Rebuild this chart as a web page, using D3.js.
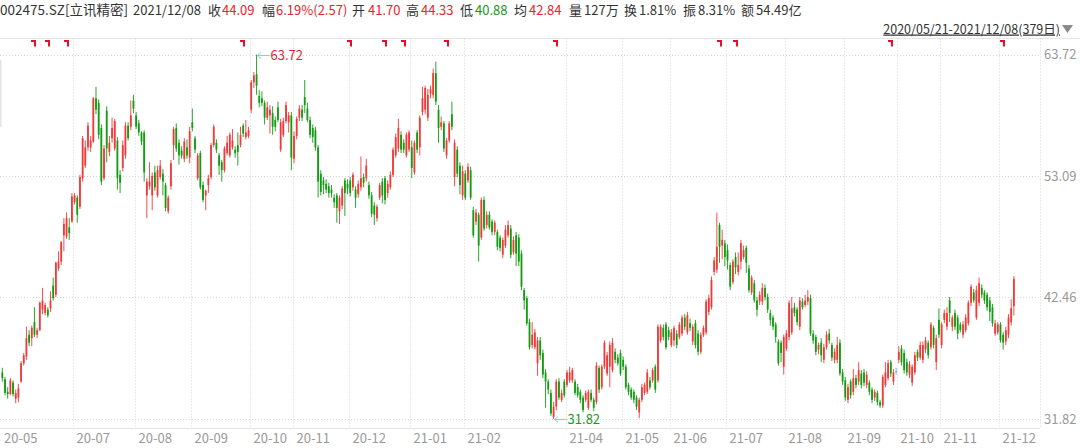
<!DOCTYPE html>
<html><head><meta charset="utf-8">
<script src="https://cdn.jsdelivr.net/npm/d3@7"></script>
<style>
html,body{margin:0;padding:0;background:#fff;}
svg{display:block;font-family:"Noto Sans CJK SC","Microsoft YaHei",sans-serif;}
</style></head><body>
<svg id="c" width="1080" height="448"></svg>
<script>
// ---- data (2020/05/21 - 2021/12/08, 379 trading days) ----
const opens = [
35.9,35.3,34.2,34.0,35.0,33.6,33.7,
35.1,36.7,37.3,39.2,38.9,40.3,39.2,39.6,41.4,41.1,41.4,41.5,43.5,42.7,45.0,45.6,47.9,47.8,48.6,49.1,
50.8,51.2,50.4,52.9,54.0,55.6,55.6,56.1,59.9,59.5,57.3,52.9,58.8,55.2,56.4,55.5,56.2,53.2,53.8,54.9,57.5,57.4,59.7,
58.4,57.7,56.9,56.9,51.4,52.2,51.4,53.4,51.4,53.0,53.3,52.3,50.0,52.2,55.8,57.3,56.0,55.3,54.6,55.6,54.7,
57.8,56.4,52.9,55.1,52.3,51.4,52.3,53.0,55.8,56.0,54.9,54.3,53.6,55.1,54.9,55.6,55.4,55.8,55.8,57.5,56.5,56.6,
58.9,61.3,62.0,60.1,59.9,59.5,58.2,58.4,58.6,58.0,59.1,55.4,56.7,57.9,57.8,58.4,
54.6,56.6,58.2,58.9,60.0,59.0,58.0,57.3,57.1,55.6,53.3,52.7,52.4,52.2,51.9,51.2,51.4,50.0,50.5,52.7,52.4,
52.7,52.1,51.9,51.5,52.1,53.0,52.9,52.3,51.4,50.5,49.4,51.2,52.6,52.9,51.6,52.1,53.2,54.9,55.5,56.7,56.0,54.9,55.4,
55.6,53.4,56.9,55.6,58.7,58.9,58.2,60.3,60.2,62.1,58.9,57.4,57.7,54.9,56.2,58.5,53.0,55.4,54.0,51.4,
53.3,52.7,53.6,50.1,49.1,49.7,47.7,51.0,48.8,49.7,49.1,48.2,48.2,47.7,46.2,
47.0,47.9,48.5,46.4,47.9,47.7,46.3,43.1,42.4,40.3,38.3,38.1,36.7,38.7,37.6,35.9,35.1,34.1,32.0,32.9,35.1,33.5,35.1,
34.8,35.2,35.2,35.1,34.6,34.2,33.7,33.5,32.8,34.1,33.5,33.3,36.3,34.6,36.4,35.8,36.4,36.1,37.7,37.2,37.6,
37.0,36.4,34.8,34.4,34.2,33.7,32.4,33.5,34.1,34.2,35.2,35.2,36.4,35.2,38.7,39.8,40.1,39.6,
38.3,38.7,39.3,39.0,39.3,40.7,39.4,40.2,38.6,40.2,39.3,37.7,39.2,39.4,41.2,41.6,44.7,44.9,48.8,47.0,47.2,
46.6,45.3,43.8,46.0,44.7,45.6,46.0,46.8,45.0,42.9,43.7,42.2,42.1,42.1,43.3,42.5,41.1,40.7,40.1,38.6,38.5,36.4,
38.0,39.0,39.4,41.6,41.4,39.9,42.1,41.8,42.1,42.4,39.3,39.0,37.9,38.5,37.0,38.1,39.3,38.3,37.0,37.0,38.5,35.9,
35.2,33.5,35.1,34.2,35.4,35.1,35.8,35.9,34.8,35.0,34.4,33.7,34.1,33.3,33.0,34.8,35.4,36.8,35.1,36.0,
37.0,38.0,37.6,36.8,35.7,35.0,35.9,37.7,37.2,37.0,37.9,38.5,38.1,39.8,36.8,40.5,
38.3,40.5,39.9,42.2,39.9,41.1,40.7,40.1,39.2,39.6,40.2,42.0,42.9,40.7,42.0,43.3,42.9,42.7,42.2,41.6,39.3,39.4,
40.1,39.2,38.6,39.2,40.3,41.70];
const highs = [
36.3,35.5,34.6,35.4,35.2,34.4,34.9,
36.9,37.6,39.9,39.6,40.0,41.6,39.8,42.1,43.3,42.0,41.6,43.0,44.2,45.6,46.5,47.4,49.4,49.9,49.4,51.6,
51.6,51.4,53.2,56.6,56.2,57.8,56.6,60.0,60.9,59.8,57.6,55.8,59.2,56.6,58.2,58.1,56.5,53.6,56.2,57.8,57.8,59.7,60.2,
58.7,58.0,57.0,57.1,52.9,54.3,53.4,54.0,54.0,54.5,53.7,52.5,51.4,54.5,57.4,57.7,56.3,55.7,56.4,56.3,57.4,
59.0,56.6,55.1,55.3,52.6,51.9,53.2,56.0,57.6,56.3,55.1,54.5,55.7,56.6,56.9,57.2,55.7,56.9,57.4,57.7,58.0,57.4,
61.5,62.2,63.72,60.6,60.5,59.7,59.6,59.3,59.2,58.3,59.6,58.1,58.2,59.6,58.7,58.7,
57.0,58.3,59.3,59.3,61.5,59.5,58.3,57.6,57.4,55.8,53.6,53.0,52.8,52.5,52.3,51.5,51.6,51.4,52.2,52.9,52.8,
53.0,53.4,52.2,52.7,54.8,53.3,54.6,52.6,51.7,50.8,50.6,52.5,52.9,53.1,52.7,53.5,55.6,56.8,58.1,57.0,56.3,56.9,57.1,
56.2,56.2,57.1,58.4,60.9,61.0,60.7,61.0,62.5,63.1,59.3,58.3,57.9,56.4,57.9,59.6,56.3,55.7,54.3,54.0,
53.6,54.2,53.9,50.4,50.2,49.9,51.2,51.3,50.0,50.0,49.3,49.2,48.4,47.9,47.7,
48.8,49.2,48.8,47.8,48.2,48.0,46.6,43.3,42.6,40.6,40.3,39.7,39.0,39.0,37.9,36.2,35.3,34.4,33.3,35.3,35.4,34.4,35.3,
36.1,36.4,36.3,35.3,34.9,34.4,33.9,34.3,34.4,34.4,33.7,36.8,36.5,36.6,38.7,37.7,38.6,38.9,38.0,37.5,37.9,
37.3,36.6,35.0,34.6,34.4,33.9,33.7,34.9,35.0,36.2,35.5,36.3,36.6,40.1,40.1,40.1,40.3,39.9,
39.7,40.0,39.6,40.3,40.9,41.0,41.2,40.6,40.1,40.5,39.6,39.4,40.0,42.3,42.7,44.3,46.0,49.9,49.0,48.4,47.5,
47.1,45.5,45.8,46.4,46.4,47.5,47.0,47.0,45.3,44.4,44.0,42.5,43.0,43.7,43.6,42.8,41.4,40.9,40.3,38.8,38.7,39.2,
39.6,42.2,42.5,42.0,41.6,42.5,42.4,42.7,43.1,42.7,39.6,39.2,38.5,38.9,38.4,39.5,39.7,38.5,38.0,39.0,38.8,36.2,
35.5,34.9,35.3,36.2,35.7,36.8,36.1,36.2,36.0,35.2,34.6,34.4,34.3,33.5,35.7,36.8,37.0,37.0,36.2,36.3,
38.2,38.3,37.9,37.1,36.9,36.6,37.7,37.9,38.6,38.6,39.0,38.7,40.3,40.0,39.2,41.5,
40.3,41.4,41.6,42.5,40.9,41.4,40.9,40.3,40.4,41.0,42.2,43.6,43.2,43.5,44.2,43.6,43.1,42.9,42.5,41.9,40.5,40.3,
40.3,39.4,39.9,41.0,42.3,44.33];
const lows = [
35.1,33.9,33.6,33.9,33.8,33.2,33.3,
35.0,36.5,37.0,38.2,38.2,39.0,38.9,39.5,41.0,40.9,40.7,41.2,42.2,42.5,44.8,45.3,46.5,47.6,47.5,49.0,
50.6,49.0,50.2,52.6,53.8,55.3,55.2,56.0,58.5,56.3,52.3,52.7,54.3,54.8,56.0,55.3,51.9,51.6,53.5,54.6,56.2,57.1,58.6,
57.2,56.6,55.8,52.6,49.4,51.9,50.1,51.8,51.2,52.8,51.4,50.0,49.8,51.9,54.5,55.2,54.1,54.6,54.3,54.6,54.2,
57.0,55.1,52.7,51.9,50.8,50.1,51.6,52.8,55.6,55.1,53.2,52.6,53.4,54.9,54.7,55.4,54.7,54.0,55.6,56.5,56.3,56.4,
58.6,60.8,60.2,59.1,59.2,57.6,58.0,56.8,56.7,57.0,57.8,55.2,56.5,57.7,56.9,53.6,
54.2,56.3,57.9,57.9,58.6,57.8,56.4,56.0,55.3,51.2,51.4,51.5,51.6,51.2,51.2,50.3,49.0,48.9,50.2,49.6,51.5,
51.3,51.8,50.3,51.2,51.8,52.1,52.6,51.1,49.5,48.8,49.1,51.0,50.7,50.6,51.2,51.9,53.0,54.7,55.2,55.1,55.1,54.7,55.2,
52.9,53.2,55.1,54.9,58.4,58.5,57.9,59.9,59.9,59.3,56.0,57.1,55.2,54.6,56.0,57.1,52.2,53.0,51.5,51.0,
51.0,52.5,51.0,47.7,48.8,45.6,47.5,48.3,48.5,48.4,47.9,47.9,46.6,46.5,45.9,
46.8,47.7,45.9,46.2,45.2,45.2,43.1,41.4,40.0,37.9,38.0,37.9,35.6,37.0,35.4,32.8,34.0,32.1,31.82,32.6,33.5,33.3,33.7,
34.6,35.0,35.0,33.9,33.7,33.2,32.4,33.3,32.6,33.3,32.5,33.1,34.1,34.4,36.2,35.6,34.6,35.9,36.7,36.5,35.6,
36.1,34.4,33.9,33.5,33.2,32.6,31.9,33.3,33.9,34.0,34.4,35.0,34.1,35.0,38.5,38.7,37.9,38.7,
38.1,38.2,38.0,38.8,39.1,39.6,39.2,39.5,38.3,38.0,37.4,37.5,39.0,39.2,40.9,41.4,44.4,44.6,45.5,45.8,45.2,
44.9,43.1,43.6,44.5,44.4,44.9,45.8,44.6,42.9,42.7,42.0,40.8,41.8,41.8,42.2,41.1,40.0,39.6,38.5,36.5,36.8,35.7,
37.8,38.7,39.2,40.8,40.0,39.6,41.4,41.6,41.8,39.1,38.4,37.4,37.5,36.8,36.7,37.9,38.4,36.9,36.7,36.7,35.6,34.8,
33.4,33.2,33.6,33.9,34.5,34.8,34.5,34.7,34.5,33.9,33.2,33.4,33.0,32.8,32.8,34.6,35.2,35.5,34.8,35.7,
36.7,36.5,35.8,35.6,35.4,34.7,35.7,36.9,37.0,36.7,37.6,37.1,37.9,38.0,36.1,38.9,
38.0,40.2,39.6,40.3,39.5,39.6,38.8,39.4,38.9,39.4,40.0,41.7,42.0,40.5,41.7,42.4,41.9,41.3,40.4,39.9,39.1,39.2,
38.5,37.9,38.3,38.9,40.0,40.88];
const closes = [
35.4,34.1,34.0,35.2,34.0,34.1,34.5,
36.7,37.4,38.9,38.5,39.8,39.2,39.6,42.0,42.2,41.8,40.9,42.2,42.4,45.5,45.6,47.3,48.9,49.4,48.1,51.3,
51.4,49.7,53.0,56.4,55.6,57.5,56.2,59.9,58.9,56.7,52.6,55.5,55.5,56.0,57.3,57.9,52.9,52.5,55.8,57.5,56.4,58.4,59.0,
57.4,56.9,56.1,53.4,52.6,52.6,53.1,52.1,53.6,54.0,52.6,50.3,51.2,54.2,57.2,55.5,54.9,54.9,56.1,54.9,57.0,
57.3,55.4,54.9,52.1,51.0,51.8,52.9,55.8,57.4,55.4,54.0,53.6,55.5,56.0,56.7,56.2,55.1,55.2,56.7,56.8,56.9,57.1,
61.3,61.9,61.0,59.5,59.5,58.2,59.1,58.9,57.4,57.4,58.0,57.8,57.9,59.3,58.4,54.7,
56.6,58.1,59.0,58.2,59.3,58.0,56.7,56.5,55.6,52.6,51.7,52.3,51.9,51.6,51.6,50.8,50.3,51.2,52.0,51.6,52.0,
51.6,53.2,51.2,52.4,52.9,52.5,54.0,51.4,49.8,49.7,50.4,52.3,51.4,51.0,52.4,53.2,55.4,56.5,57.3,55.4,55.4,56.7,56.9,
53.8,56.0,55.4,58.2,59.9,60.8,60.2,60.7,62.1,59.6,57.3,57.8,55.5,56.2,57.7,57.4,56.0,53.3,52.3,53.5,
51.2,53.9,51.2,47.9,49.9,47.0,51.0,48.5,49.7,48.6,48.2,49.0,46.9,46.8,47.5,
48.4,48.8,46.2,47.5,46.3,45.6,43.4,42.2,40.2,38.1,39.2,39.4,38.7,37.4,35.7,35.1,34.4,32.3,32.9,35.1,33.7,34.1,33.9,
35.9,35.9,36.1,34.1,33.9,33.5,32.6,34.1,34.2,33.5,32.8,36.5,34.4,36.4,38.5,37.4,38.3,38.5,37.0,36.7,35.8,
36.4,34.6,34.2,33.7,33.5,32.9,33.5,34.6,34.8,35.9,34.6,36.1,34.4,39.9,39.9,39.0,38.1,39.0,
39.4,39.8,38.3,40.1,40.7,39.9,40.9,39.8,39.9,38.3,37.7,39.2,39.8,42.1,42.4,44.0,45.7,46.9,46.9,47.5,46.0,
45.7,43.4,45.6,45.1,45.3,47.2,46.6,45.5,43.1,44.2,42.2,41.4,42.7,43.3,42.5,41.4,40.5,39.9,39.0,36.7,37.6,39.0,
39.3,42.0,41.5,41.1,40.3,42.2,41.6,42.2,42.5,39.3,38.7,37.7,38.3,37.4,38.1,39.2,38.7,37.2,37.7,38.3,35.8,35.1,
33.7,34.6,33.9,35.4,34.8,36.1,34.8,35.0,35.7,34.2,33.5,34.2,33.3,33.0,35.5,35.9,36.7,35.8,35.9,36.0,
37.7,36.8,36.1,35.9,36.6,36.4,37.4,37.2,38.3,38.3,38.7,37.4,40.1,38.3,38.9,39.2,
40.1,41.1,41.1,41.1,40.7,39.9,39.3,39.6,40.1,40.7,42.0,43.4,42.2,43.1,43.7,42.7,42.2,41.6,41.2,40.2,40.2,40.1,
38.7,38.5,39.6,40.7,41.52,44.09];

const monthLabels = ["20-05","20-07","20-08","20-09","20-10","20-11","20-12","21-01","21-02","21-04","21-05","21-06","21-07","21-08","21-09","21-10","21-11","21-12"];
const monthStarts = [0,27,50,71,93,109,130,153,173,211,232,250,271,293,315,335,351,373];
const yTickLabels = ["31.82","42.46","53.09","63.72"];
const eventIdx = [12,17,24,90,130,143,150,166,207,268,274,332,374];

const headerItems = [
  ["002475.SZ[立讯精密]", "k"], ["2021/12/08", "k"],
  ["收", "k"], ["44.09", "r"], ["幅", "k"], ["6.19%(2.57)", "r"],
  ["开", "k"], ["41.70", "r"], ["高", "k"], ["44.33", "r"],
  ["低", "k"], ["40.88", "g"], ["均", "k"], ["42.84", "r"],
  ["量", "k"], ["127万", "k"], ["换", "k"], ["1.81%", "k"],
  ["振", "k"], ["8.31%", "k"], ["额", "k"], ["54.49亿", "k"]
];
const rangeText = "2020/05/21-2021/12/08(379日)";

(function(){
// ---- drawing ----
const RED = "#f03a3a", GREEN = "#119c11", DOJI = "#6fa6d6";
const svg = d3.select("#c");
const n = closes.length;
const x = d3.scaleBand().domain(d3.range(n)).range([1, 1 + n * 2.676]).padding(0);
const y = d3.scaleLinear().domain([+yTickLabels[0], +yTickLabels[3]]).range([419, 54.6]);
const plotRight = 1040, topY = 38.5, bottomY = 428.5;

// header
const hx = [0,133,208,222,262,276,352,368,406,421,460,475,514,529,569,584,624,639,683,698,741,756];
const colorOf = {k:"#333", r:"#e8242c", g:"#1a961a"};
svg.append("g").selectAll("text").data(headerItems).join("text")
  .attr("x", (d,i)=>hx[i]).attr("y", 15)
  .attr("font-size", (d,i)=> i===0 ? 13.5 : 13).attr("fill", d=>colorOf[d[1]]).text(d=>d[0]);

svg.append("text").attr("x", 1060).attr("y", 33.5).attr("text-anchor","end")
  .attr("font-size", 12.5).attr("fill","#333").attr("text-decoration","underline").text(rangeText);
svg.append("path").attr("d","M1062,25 L1073,25 L1067.5,33 Z").attr("fill","#8a8a8a");

svg.append("line").attr("x1",0).attr("x2",1080).attr("y1",topY).attr("y2",topY).attr("stroke","#e6e6e6");

// grid
const grid = svg.append("g").attr("stroke","#d6d6d6").attr("stroke-dasharray","1,2").attr("stroke-width",1);
grid.selectAll(".h").data(yTickLabels).join("line")
  .attr("x1",0).attr("x2",plotRight)
  .attr("y1",d=>Math.round(y(+d))+0.5).attr("y2",d=>Math.round(y(+d))+0.5);
grid.selectAll(".v").data(monthStarts.slice(1)).join("line")
  .attr("x1",d=>Math.round(x(d))+0.5).attr("x2",d=>Math.round(x(d))+0.5)
  .attr("y1",topY).attr("y2",bottomY);
grid.append("line").attr("x1",plotRight+0.5).attr("x2",plotRight+0.5).attr("y1",topY).attr("y2",bottomY);

// left edge scroll mark
svg.append("rect").attr("x",0).attr("y",60).attr("width",1.5).attr("height",67).attr("fill","#e4e4e4");

// bottom axis
svg.append("line").attr("x1",0).attr("x2",plotRight).attr("y1",bottomY).attr("y2",bottomY).attr("stroke","#e3e3e3");
svg.append("g").selectAll("text").data(monthLabels).join("text")
  .attr("x",(d,i)=> i===0 ? 4 : Math.round(x(monthStarts[i])) + 3.5)
  .attr("y",442.5).attr("font-size",13).attr("fill","#999").text(d=>d);

// y labels
svg.append("g").selectAll("text").data(yTickLabels).join("text")
  .attr("x",1044).attr("y",d=>y(+d)).attr("dy","0.35em")
  .attr("font-size",13).attr("fill","#999").text(d=>d);

// candles
const idx = d3.range(n);
const col = i => closes[i] > opens[i] ? RED : (closes[i] < opens[i] ? GREEN : DOJI);
const cg = svg.append("g");
const bw = 1.8;
cg.selectAll(".w").data(idx).join("line")
  .attr("x1",i=>x(i)+x.bandwidth()/2).attr("x2",i=>x(i)+x.bandwidth()/2)
  .attr("y1",i=>y(highs[i])).attr("y2",i=>y(lows[i]))
  .attr("stroke",col).attr("stroke-width",0.9);
cg.selectAll(".b").data(idx).join("rect")
  .attr("x",i=>x(i)+x.bandwidth()/2-bw/2).attr("width",bw)
  .attr("y",i=>y(Math.max(opens[i],closes[i])))
  .attr("height",i=>Math.max(1, Math.abs(y(opens[i])-y(closes[i]))))
  .attr("fill",col);

// event markers
svg.append("g").selectAll("path").data(eventIdx).join("path")
  .attr("d",i=>{const cx=Math.round(x(i)+x.bandwidth()/2);return `M${cx-3},40 h5 v6.5 h-2 v-4.5 h-3 Z`;})
  .attr("fill","#e3102a");

// max / min annotations
const maxI = d3.maxIndex(highs), minI = d3.minIndex(lows);
function annot(i, v, color){
  const cx = x(i)+x.bandwidth()/2, yy = Math.round(y(v))+0.5;
  const g = svg.append("g");
  g.append("line").attr("x1",cx+1).attr("x2",cx+13).attr("y1",yy).attr("y2",yy).attr("stroke","#8cc8e4");
  g.append("path").attr("d",`M${cx+4.5},${yy-3} L${cx+1},${yy} L${cx+4.5},${yy+3}`).attr("fill","none").attr("stroke","#8cc8e4");
  g.append("text").attr("x",cx+14).attr("y",yy).attr("dy","0.35em").attr("font-size",13).attr("fill",color).text(v.toFixed(2));
}
annot(maxI, highs[maxI], "#e8242c");
annot(minI, lows[minI], "#1a961a");
})();
</script>
</body></html>
